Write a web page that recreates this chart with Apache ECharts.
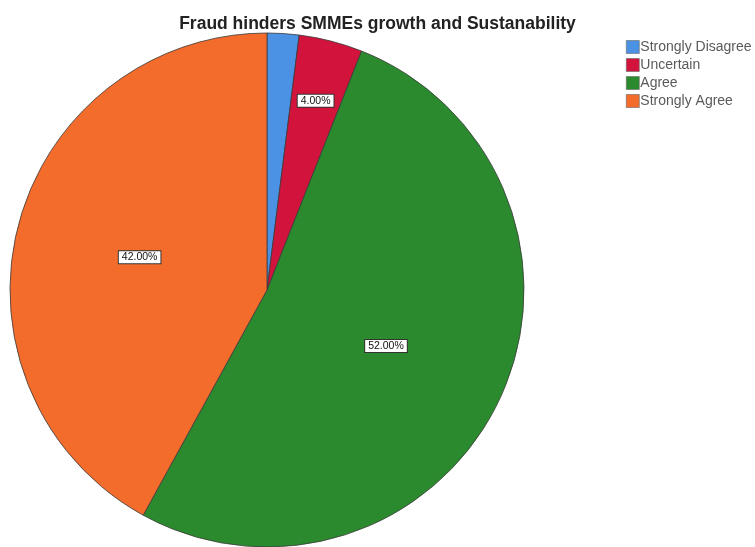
<!DOCTYPE html>
<html>
<head>
<meta charset="utf-8">
<script src="https://cdn.jsdelivr.net/npm/echarts@6/dist/echarts.min.js"></script>
<style>
  html, body { margin: 0; padding: 0; background: #ffffff; }
  #chart { width: 755px; height: 547px; }
</style>
</head>
<body>
<div id="chart"></div>
<script>
// Survey responses: "Fraud hinders SMMEs growth and Sustanability"
const categories = ['Strongly Disagree', 'Uncertain', 'Agree', 'Strongly Agree'];
const percentages = [2, 4, 52, 42];
const sliceColors = ['#4b92e4', '#d2143c', '#2b8a2d', '#f36c2b'];
// Which slices carry a value label, and which of those sit near the rim
const labelShown = [false, true, true, true];
const labelNearRim = [false, true, false, false];

const chart = echarts.init(document.getElementById('chart'), null, { renderer: 'canvas' });

const labelBox = {
  color: '#111',
  fontFamily: 'Liberation Sans, Arial, sans-serif',
  fontSize: 10.5,
  backgroundColor: '#ffffff',
  borderColor: '#333333',
  borderWidth: 1,
  padding: [1, 3, 0, 3],
  formatter: p => p.value.toFixed(2) + '%'
};

const mainData = categories.map((name, i) => ({
  name,
  value: percentages[i],
  itemStyle: { color: sliceColors[i] },
  label: { show: labelShown[i] && !labelNearRim[i] }
}));

// Transparent ring used only to place labels farther out on thin slices
const rimData = categories.map((name, i) => ({
  name,
  value: percentages[i],
  itemStyle: { color: 'rgba(0,0,0,0)', borderWidth: 0 },
  label: { show: labelShown[i] && labelNearRim[i] }
}));

chart.setOption({
  animation: false,
  title: {
    text: 'Fraud hinders SMMEs growth and Sustanability',
    left: 'center',
    top: 10,
    textStyle: {
      fontFamily: 'Liberation Sans, Arial, sans-serif',
      fontSize: 17.5,
      fontWeight: 'bold',
      color: '#222'
    }
  },
  legend: {
    orient: 'vertical',
    left: 621,
    top: 35,
    itemWidth: 13,
    itemHeight: 13,
    itemGap: 4,
    icon: 'rect',
    data: categories,
    itemStyle: { borderColor: '#666', borderWidth: 0.6 },
    textStyle: {
      fontFamily: 'Liberation Sans, Arial, sans-serif',
      fontSize: 14,
      color: '#5a5a5a',
      padding: [0, 0, 0, -4]
    }
  },
  series: [
    {
      type: 'pie',
      center: [267, 290],
      radius: [0, 257],
      startAngle: 90,
      clockwise: true,
      silent: true,
      data: mainData,
      itemStyle: { borderColor: '#3a3a3a', borderWidth: 0.8 },
      label: Object.assign({ position: 'inside' }, labelBox),
      labelLine: { show: false }
    },
    {
      type: 'pie',
      center: [267, 290],
      radius: [128, 257],
      startAngle: 90,
      clockwise: true,
      silent: true,
      legendHoverLink: false,
      data: rimData,
      label: Object.assign({ position: 'inside' }, labelBox),
      labelLine: { show: false }
    }
  ]
});
</script>
</body>
</html>
